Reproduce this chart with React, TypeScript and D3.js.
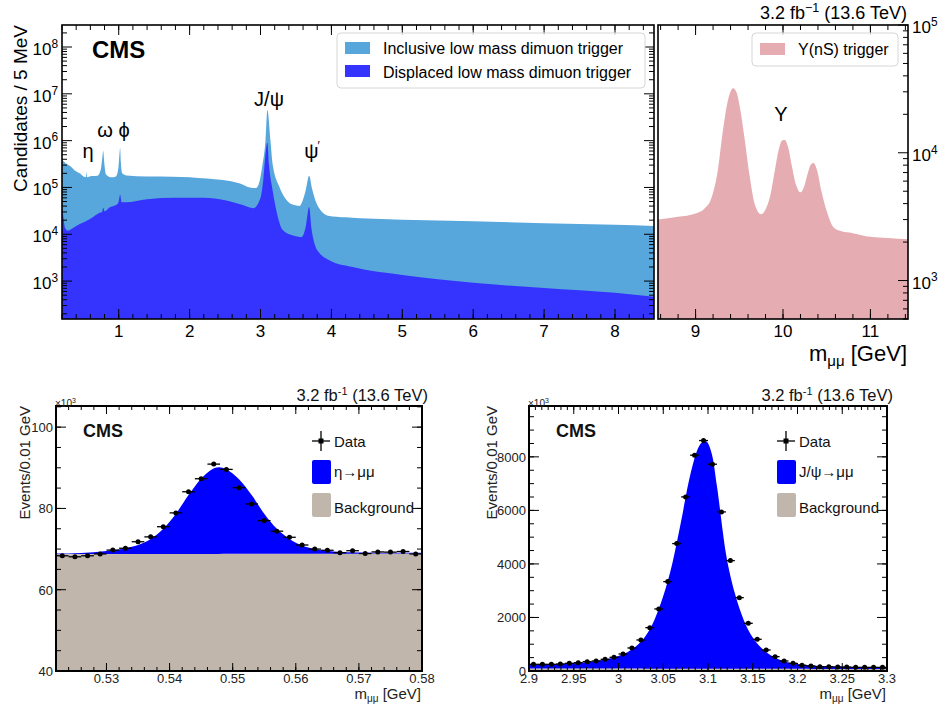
import React from 'react';
import * as d3 from 'd3';

const FONT = '"Liberation Sans", Arial, Helvetica, sans-serif';

// ---- Low-mass dimuon spectrum (GeV, candidates / 5 MeV) ----
const inclusiveMass = [0.2, 0.25, 0.31, 0.38, 0.45, 0.52, 0.54, 0.548, 0.556, 0.62, 0.7, 0.75, 0.77, 0.782, 0.795, 0.82, 0.9, 0.96, 0.995, 1.012, 1.02, 1.03, 1.05, 1.11, 1.4, 1.76, 2.24, 2.7, 2.85, 2.93, 2.97, 3.03, 3.07, 3.097, 3.14, 3.17, 3.27, 3.35, 3.45, 3.55, 3.6, 3.64, 3.686, 3.73, 3.78, 3.85, 3.95, 4.2, 5.0, 6.0, 7.0, 8.0, 8.55];
const inclusiveCounts = [390000, 330000, 290000, 230000, 200000, 168000, 168000, 215000, 166000, 175000, 178000, 250000, 450000, 600000, 350000, 190000, 165000, 172000, 260000, 550000, 700000, 350000, 200000, 180000, 172000, 170000, 155000, 123000, 100000, 97000, 112000, 320000, 1000000, 4500000, 1000000, 320000, 100000, 58000, 43000, 40000, 55000, 90000, 178000, 90000, 50000, 32000, 25000, 23000, 20500, 19000, 17200, 16000, 15000];

const displacedMass = [0.2, 0.215, 0.24, 0.28, 0.35, 0.45, 0.55, 0.65, 0.74, 0.765, 0.782, 0.8, 0.88, 0.98, 1.0, 1.02, 1.04, 1.1, 1.4, 1.8, 2.2, 2.5, 2.75, 2.9, 3.0, 3.04, 3.07, 3.097, 3.12, 3.17, 3.24, 3.31, 3.45, 3.58, 3.64, 3.686, 3.72, 3.78, 3.83, 3.97, 4.3, 5.0, 6.0, 7.0, 8.0, 8.55];
const displacedCounts = [36000, 26000, 14000, 12000, 13500, 16500, 19500, 24000, 29000, 30000, 37000, 31000, 38000, 44000, 50000, 70000, 48000, 48000, 56000, 60000, 60000, 53000, 42000, 36000, 60000, 150000, 500000, 900000, 300000, 87000, 25000, 12500, 9500, 8700, 15000, 38000, 13000, 5200, 4000, 2800, 2000, 1350, 920, 710, 560, 460];

// ---- Upsilon region (GeV, candidates / 5 MeV) ----
const upsilonMass = [8.57, 8.8, 9.0, 9.1, 9.18, 9.25, 9.31, 9.35, 9.39, 9.43, 9.47, 9.51, 9.56, 9.62, 9.68, 9.75, 9.8, 9.85, 9.91, 9.95, 9.99, 10.02, 10.06, 10.1, 10.15, 10.2, 10.24, 10.28, 10.32, 10.35, 10.39, 10.44, 10.5, 10.58, 10.65, 10.8, 11.0, 11.2, 11.43];
const upsilonCounts = [3000, 3150, 3350, 3650, 4400, 7000, 14500, 22000, 29000, 32000, 29500, 22000, 13000, 6500, 3900, 3300, 3600, 4500, 7500, 10500, 12500, 12600, 11000, 8000, 5600, 4900, 5400, 6800, 8100, 8300, 7300, 5000, 3500, 2600, 2450, 2350, 2200, 2150, 2100];

// ---- eta -> mu mu fit (GeV, events x 10^3) ----
const etaDataMass = [0.523, 0.525, 0.527, 0.529, 0.531, 0.533, 0.535, 0.537, 0.539, 0.541, 0.543, 0.545, 0.547, 0.549, 0.551, 0.553, 0.555, 0.557, 0.559, 0.561, 0.563, 0.565, 0.567, 0.569, 0.571, 0.573, 0.575, 0.577, 0.579];
const etaDataCounts = [68.35, 68.1, 68.35, 68.8, 69.75, 70.2, 71.8, 73.0, 75.5, 78.9, 84.1, 87.3, 90.9, 89.6, 85.1, 81.1, 77.0, 74.4, 72.9, 71.0, 70.0, 69.7, 69.1, 69.6, 68.9, 69.3, 69.25, 69.4, 68.8];
const etaFitMass = [0.522, 0.526, 0.53, 0.533, 0.535, 0.537, 0.539, 0.541, 0.543, 0.545, 0.5465, 0.5478, 0.549, 0.551, 0.553, 0.555, 0.557, 0.559, 0.561, 0.563, 0.566, 0.57, 0.575, 0.58];
const etaFitTotal = [68.9, 69.05, 69.5, 70.2, 71.0, 72.5, 75.0, 78.7, 83.3, 87.3, 89.4, 90.1, 89.6, 87.2, 83.3, 78.7, 75.0, 72.5, 70.9, 70.0, 69.4, 69.15, 69.1, 69.1];
const etaBkgMass = [0.522, 0.58];
const etaBkgCounts = [68.75, 68.9];

// ---- J/psi -> mu mu fit (GeV, events x 10^3) ----
const jpsiDataMass = [2.905, 2.915, 2.925, 2.935, 2.945, 2.955, 2.965, 2.975, 2.985, 2.995, 3.005, 3.015, 3.025, 3.035, 3.045, 3.055, 3.065, 3.075, 3.085, 3.095, 3.105, 3.115, 3.125, 3.135, 3.145, 3.155, 3.165, 3.175, 3.185, 3.195, 3.205, 3.215, 3.225, 3.235, 3.245, 3.255, 3.265, 3.275, 3.285, 3.295];
const jpsiDataCounts = [250, 250, 250, 262, 287, 312, 349, 374, 436, 511, 635, 860, 1159, 1620, 2318, 3339, 4760, 6505, 8063, 8610, 7725, 5943, 4124, 2741, 1782, 1184, 785, 536, 374, 287, 212, 187, 162, 162, 150, 150, 137, 137, 137, 137];
const jpsiFitMass = [2.9, 2.93, 2.96, 2.98, 3.0, 3.01, 3.02, 3.03, 3.04, 3.05, 3.06, 3.07, 3.08, 3.09, 3.097, 3.105, 3.11, 3.12, 3.13, 3.14, 3.15, 3.16, 3.17, 3.18, 3.19, 3.2, 3.22, 3.25, 3.3];
const jpsiFitTotal = [230, 265, 320, 400, 560, 700, 930, 1300, 1900, 2800, 4000, 5600, 7300, 8400, 8590, 8000, 6900, 4400, 2900, 1900, 1250, 850, 590, 420, 320, 260, 200, 160, 130];
const jpsiBkgMass = [2.9, 3.3];
const jpsiBkgCounts = [95, 75];

// ---- Axis tick values ----
const mainMassTicks = [1, 2, 3, 4, 5, 6, 7, 8];
const upsMassTicks = [9, 10, 11];
const mainCountDecades = [3, 4, 5, 6, 7, 8];
const upsCountDecades = [3, 4, 5];
const etaMassTicks = [0.53, 0.54, 0.55, 0.56, 0.57, 0.58];
const etaCountTicks = [40, 60, 80, 100];
const jpsiMassTicks = [2.9, 2.95, 3.0, 3.05, 3.1, 3.15, 3.2, 3.25, 3.3];
const jpsiCountTicks = [0, 2000, 4000, 6000, 8000];

const C_INCL = '#57a6dc';
const C_DISP = '#3434fe';
const C_UPS = '#e5acb2';
const C_SIG = '#0000ff';
const C_BKG = '#c0b6ab';

const zip = (a: number[], b: number[]) => a.map((v, i) => [v, b[i]] as [number, number]);

function stepTicks(lo: number, hi: number, step: number) {
  const out: number[] = [];
  const start = Math.ceil(lo / step - 1e-6);
  for (let k = start; k * step <= hi + 1e-9; k++) out.push(+(k * step).toFixed(6));
  return out;
}

function logMinors(lo: number, hi: number) {
  const out: number[] = [];
  for (let e = Math.floor(Math.log10(lo)); e <= Math.ceil(Math.log10(hi)); e++) {
    for (let k = 2; k <= 9; k++) {
      const v = k * Math.pow(10, e);
      if (v >= lo && v <= hi) out.push(v);
    }
  }
  return out;
}

function Pow10({ x, y, e, size, anchor }: { x: number; y: number; e: number; size: number; anchor: string }) {
  return (
    <text x={x} y={y} fontSize={size} textAnchor={anchor as any} fontFamily={FONT} fill="#000">
      10<tspan dy={-size * 0.42} fontSize={size * 0.7}>{e}</tspan>
    </text>
  );
}

function MainPanels() {
  const L = 62, R = 654, T = 25, B = 319;
  const x = d3.scaleLinear().domain([0.2, 8.55]).range([L, R]);
  const y = d3.scaleLog().domain([Math.pow(10, 2.19), Math.pow(10, 8.47)]).range([B, T]);
  const UL = 658, UR = 908;
  const xu = d3.scaleLinear().domain([8.57, 11.43]).range([UL, UR]);
  const yu = d3.scaleLog().domain([500, 1e5]).range([B, T]);

  const area = (xs: any, ys: any) =>
    d3.area<[number, number]>().x(d => xs(d[0])).y0(B).y1(d => ys(d[1])).curve(d3.curveMonotoneX);

  const inclPath = area(x, y)(zip(inclusiveMass, inclusiveCounts)) || '';
  const dispPath = area(x, y)(zip(displacedMass, displacedCounts)) || '';
  const upsPath = area(xu, yu)(zip(upsilonMass, upsilonCounts)) || '';

  const minorX = stepTicks(0.2, 8.55, 0.2);
  const minorXu = stepTicks(8.57, 11.43, 0.2);
  const minorY = logMinors(y.domain()[0], y.domain()[1]);
  const minorYu = logMinors(500, 1e5);

  return (
    <g>
      <defs>
        <clipPath id="clipMain"><rect x={L} y={T} width={R - L} height={B - T} /></clipPath>
        <clipPath id="clipUps"><rect x={UL} y={T} width={UR - UL} height={B - T} /></clipPath>
      </defs>
      <g clipPath="url(#clipMain)">
        <path d={inclPath} fill={C_INCL} />
        <path d={dispPath} fill={C_DISP} />
      </g>
      <g clipPath="url(#clipUps)">
        <path d={upsPath} fill={C_UPS} />
      </g>

      {/* panel ticks, all pointing inward */}
      <g stroke="#000" strokeWidth={1}>
        {minorX.map(v => (
          <g key={'mx' + v}>
            <line x1={x(v)} x2={x(v)} y1={B} y2={B - 5} />
            <line x1={x(v)} x2={x(v)} y1={T} y2={T + 5} />
          </g>
        ))}
        {mainMassTicks.map(v => (
          <g key={'Mx' + v}>
            <line x1={x(v)} x2={x(v)} y1={B} y2={B - 10} />
            <line x1={x(v)} x2={x(v)} y1={T} y2={T + 10} />
          </g>
        ))}
        {minorY.map(v => (
          <g key={'my' + v}>
            <line x1={L} x2={L + 5} y1={y(v)} y2={y(v)} />
            <line x1={R} x2={R - 5} y1={y(v)} y2={y(v)} />
          </g>
        ))}
        {mainCountDecades.map(e => (
          <g key={'My' + e}>
            <line x1={L} x2={L + 10} y1={y(Math.pow(10, e))} y2={y(Math.pow(10, e))} />
            <line x1={R} x2={R - 10} y1={y(Math.pow(10, e))} y2={y(Math.pow(10, e))} />
          </g>
        ))}
        {minorXu.map(v => (
          <g key={'ux' + v}>
            <line x1={xu(v)} x2={xu(v)} y1={B} y2={B - 5} />
            <line x1={xu(v)} x2={xu(v)} y1={T} y2={T + 5} />
          </g>
        ))}
        {upsMassTicks.map(v => (
          <g key={'Ux' + v}>
            <line x1={xu(v)} x2={xu(v)} y1={B} y2={B - 10} />
            <line x1={xu(v)} x2={xu(v)} y1={T} y2={T + 10} />
          </g>
        ))}
        {minorYu.map(v => (
          <line key={'uy' + v} x1={UR} x2={UR - 5} y1={yu(v)} y2={yu(v)} />
        ))}
        {upsCountDecades.map(e => (
          <line key={'Uy' + e} x1={UR} x2={UR - 10} y1={yu(Math.pow(10, e))} y2={yu(Math.pow(10, e))} />
        ))}
      </g>
      <rect x={L} y={T} width={R - L} height={B - T} fill="none" stroke="#000" strokeWidth={1.6} />
      <rect x={UL} y={T} width={UR - UL} height={B - T} fill="none" stroke="#000" strokeWidth={1.6} />

      {/* tick labels */}
      {mainMassTicks.map(v => (
        <text key={'lx' + v} x={x(v)} y={337} fontSize={17} textAnchor="middle" fontFamily={FONT}>{v}</text>
      ))}
      {upsMassTicks.map(v => (
        <text key={'lux' + v} x={xu(v)} y={337} fontSize={17} textAnchor="middle" fontFamily={FONT}>{v}</text>
      ))}
      {mainCountDecades.map(e => (
        <Pow10 key={'ly' + e} x={58} y={y(Math.pow(10, e)) + 8} e={e} size={17} anchor="end" />
      ))}
      {upsCountDecades.map(e => (
        <Pow10 key={'luy' + e} x={912} y={yu(Math.pow(10, e)) + 8} e={e} size={17} anchor="start" />
      ))}

      {/* axis titles */}
      <text transform="translate(27,25) rotate(-90)" fontSize={19} textAnchor="end" fontFamily={FONT}>Candidates / 5 MeV</text>
      <text x={907} y={361} fontSize={22} textAnchor="end" fontFamily={FONT}>
        m<tspan dy={5} fontSize={15}>μμ</tspan><tspan dy={-5}> [GeV]</tspan>
      </text>
      <text x={907} y={19} fontSize={18} textAnchor="end" fontFamily={FONT}>
        3.2 fb<tspan dy={-7} fontSize={12.5}>−1</tspan><tspan dy={7}> (13.6 TeV)</tspan>
      </text>
      <text x={92} y={58} fontSize={24} fontWeight="bold" fontFamily={FONT}>CMS</text>

      {/* resonance labels */}
      <g fontFamily={FONT} fontSize={20} textAnchor="middle">
        <text x={88} y={158}>η</text>
        <text x={105} y={137}>ω</text>
        <text x={124} y={137}>ϕ</text>
        <text x={269} y={106}>J/ψ</text>
        <text x={312} y={158}>ψ<tspan dx={-1} dy={-8} fontSize={12}>′</tspan></text>
        <text x={781} y={121}>Υ</text>
      </g>

      {/* legends */}
      <rect x={337} y={33} width={308} height={55} rx={4} fill="#fff" fillOpacity={0.8} stroke="#d6d6d6" strokeWidth={1} />
      <rect x={345} y={42} width={25} height={12} fill={C_INCL} />
      <text x={383} y={54} fontSize={16} fontFamily={FONT}>Inclusive low mass dimuon trigger</text>
      <rect x={345} y={65} width={25} height={12} fill={C_DISP} />
      <text x={383} y={78} fontSize={16} fontFamily={FONT}>Displaced low mass dimuon trigger</text>

      <rect x={752} y={33} width={146} height={33} rx={4} fill="#fff" fillOpacity={0.8} stroke="#d6d6d6" strokeWidth={1} />
      <rect x={760} y={43} width={25} height={12} fill={C_UPS} />
      <text x={798} y={55} fontSize={16} fontFamily={FONT}>Υ(nS) trigger</text>
    </g>
  );
}

type FitProps = {
  L: number; R: number; xDomain: [number, number]; yDomain: [number, number];
  massTicks: number[]; countTicks: number[]; xMinorStep: number; yMinorStep: number;
  tickFmt: (v: number) => string;
  dataMass: number[]; dataCounts: number[]; halfBin: number;
  fitMass: number[]; fitTotal: number[]; bkgMass: number[]; bkgCounts: number[];
  sigLabel: React.ReactNode; yTitleX: number;
};

function FitPanel(p: FitProps) {
  const T = 406, B = 671;
  const x = d3.scaleLinear().domain(p.xDomain).range([p.L, p.R]);
  const y = d3.scaleLinear().domain(p.yDomain).range([B, T]);
  const bkgAt = d3.scaleLinear().domain(p.bkgMass).range(p.bkgCounts);
  const fitPts = zip(p.fitMass, p.fitTotal);
  const sigArea = d3.area<[number, number]>()
    .x(d => x(d[0])).y0(d => y(bkgAt(d[0]))).y1(d => y(d[1])).curve(d3.curveMonotoneX)(fitPts) || '';
  const bkgArea = d3.area<[number, number]>()
    .x(d => x(d[0])).y0(B).y1(d => y(d[1]))(zip(p.bkgMass, p.bkgCounts)) || '';
  const xMinor = stepTicks(p.xDomain[0], p.xDomain[1], p.xMinorStep);
  const yMinor = stepTicks(p.yDomain[0], p.yDomain[1], p.yMinorStep);
  const lx = p.R - 110;
  const id = 'clip' + p.L;

  return (
    <g fontFamily={FONT}>
      <defs><clipPath id={id}><rect x={p.L} y={T} width={p.R - p.L} height={B - T} /></clipPath></defs>
      <g clipPath={`url(#${id})`}>
        <path d={bkgArea} fill={C_BKG} />
        <path d={sigArea} fill={C_SIG} />
      </g>
      <g stroke="#000" strokeWidth={1}>
        {xMinor.map(v => (
          <g key={'xm' + v}>
            <line x1={x(v)} x2={x(v)} y1={B} y2={B - 4} />
            <line x1={x(v)} x2={x(v)} y1={T} y2={T + 4} />
          </g>
        ))}
        {p.massTicks.map(v => (
          <g key={'xM' + v}>
            <line x1={x(v)} x2={x(v)} y1={B} y2={B - 8} />
            <line x1={x(v)} x2={x(v)} y1={T} y2={T + 8} />
          </g>
        ))}
        {yMinor.map(v => (
          <g key={'ym' + v}>
            <line x1={p.L} x2={p.L + 5} y1={y(v)} y2={y(v)} />
            <line x1={p.R} x2={p.R - 5} y1={y(v)} y2={y(v)} />
          </g>
        ))}
        {p.countTicks.map(v => (
          <g key={'yM' + v}>
            <line x1={p.L} x2={p.L + 10} y1={y(v)} y2={y(v)} />
            <line x1={p.R} x2={p.R - 10} y1={y(v)} y2={y(v)} />
          </g>
        ))}
      </g>
      {/* data points with bin-width error bars */}
      <g stroke="#000" strokeWidth={1.3} fill="#000">
        {p.dataMass.map((m, i) => (
          <g key={'d' + i}>
            <line x1={x(m - p.halfBin)} x2={x(m + p.halfBin)} y1={y(p.dataCounts[i])} y2={y(p.dataCounts[i])} />
            <circle cx={x(m)} cy={y(p.dataCounts[i])} r={2.5} stroke="none" />
          </g>
        ))}
      </g>
      <rect x={p.L} y={T} width={p.R - p.L} height={B - T} fill="none" stroke="#000" strokeWidth={2} />

      {p.massTicks.map(v => (
        <text key={'lx' + v} x={x(v)} y={683} fontSize={13} textAnchor="middle" fill="#222">{p.tickFmt(v)}</text>
      ))}
      {p.countTicks.map(v => (
        <text key={'ly' + v} x={p.L - 3} y={y(v) + 5} fontSize={13} textAnchor="end" fill="#222">{v}</text>
      ))}
      <text x={p.L - 1} y={407} fontSize={10} fill="#222">×10<tspan dy={-4} fontSize={7}>3</tspan></text>
      <text transform={`translate(${p.yTitleX},406) rotate(-90)`} fontSize={15} textAnchor="end" fill="#222">Events/0.01 GeV</text>
      <text x={p.R - 1} y={699} fontSize={15} textAnchor="end" fill="#222">
        m<tspan dy={3} fontSize={10}>μμ</tspan><tspan dy={-3}> [GeV]</tspan>
      </text>
      <text x={p.R + 6} y={401} fontSize={16.5} textAnchor="end" fill="#111">
        3.2 fb<tspan dy={-6} fontSize={11}>-1</tspan><tspan dy={6}> (13.6 TeV)</tspan>
      </text>
      <text x={p.L + 27} y={437} fontSize={18} fontWeight="bold" fill="#111">CMS</text>

      {/* legend */}
      <g>
        <line x1={lx} x2={lx + 18} y1={441} y2={441} stroke="#000" strokeWidth={1.3} />
        <line x1={lx + 9} x2={lx + 9} y1={431} y2={451} stroke="#000" strokeWidth={1.3} />
        <rect x={lx + 6.5} y={438.5} width={5} height={5} fill="#000" />
        <text x={lx + 22} y={447} fontSize={15} fill="#111">Data</text>
        <rect x={lx} y={460} width={19} height={24} rx={2} fill={C_SIG} />
        <text x={lx + 22} y={477} fontSize={15} fill="#111">{p.sigLabel}</text>
        <rect x={lx} y={493} width={19} height={24} rx={2} fill={C_BKG} />
        <text x={lx + 22} y={513} fontSize={15} fill="#111">Background</text>
      </g>
    </g>
  );
}

export default function App() {
  return (
    <svg width={941} height={707} viewBox="0 0 941 707"
      style={{ position: 'absolute', left: 0, top: 0, background: '#fff' }}>
      <MainPanels />
      <FitPanel
        L={56} R={422} xDomain={[0.522, 0.58]} yDomain={[40, 105.2]}
        massTicks={etaMassTicks} countTicks={etaCountTicks} xMinorStep={0.002} yMinorStep={5}
        tickFmt={v => v.toFixed(2)}
        dataMass={etaDataMass} dataCounts={etaDataCounts} halfBin={0.001}
        fitMass={etaFitMass} fitTotal={etaFitTotal} bkgMass={etaBkgMass} bkgCounts={etaBkgCounts}
        sigLabel="η→μμ" yTitleX={30}
      />
      <FitPanel
        L={529} R={887} xDomain={[2.9, 3.3]} yDomain={[0, 9900]}
        massTicks={jpsiMassTicks} countTicks={jpsiCountTicks} xMinorStep={0.05 / 7} yMinorStep={500}
        tickFmt={v => String(+v.toFixed(2))}
        dataMass={jpsiDataMass} dataCounts={jpsiDataCounts} halfBin={0.005}
        fitMass={jpsiFitMass} fitTotal={jpsiFitTotal} bkgMass={jpsiBkgMass} bkgCounts={jpsiBkgCounts}
        sigLabel="J/ψ→μμ" yTitleX={497}
      />
    </svg>
  );
}
